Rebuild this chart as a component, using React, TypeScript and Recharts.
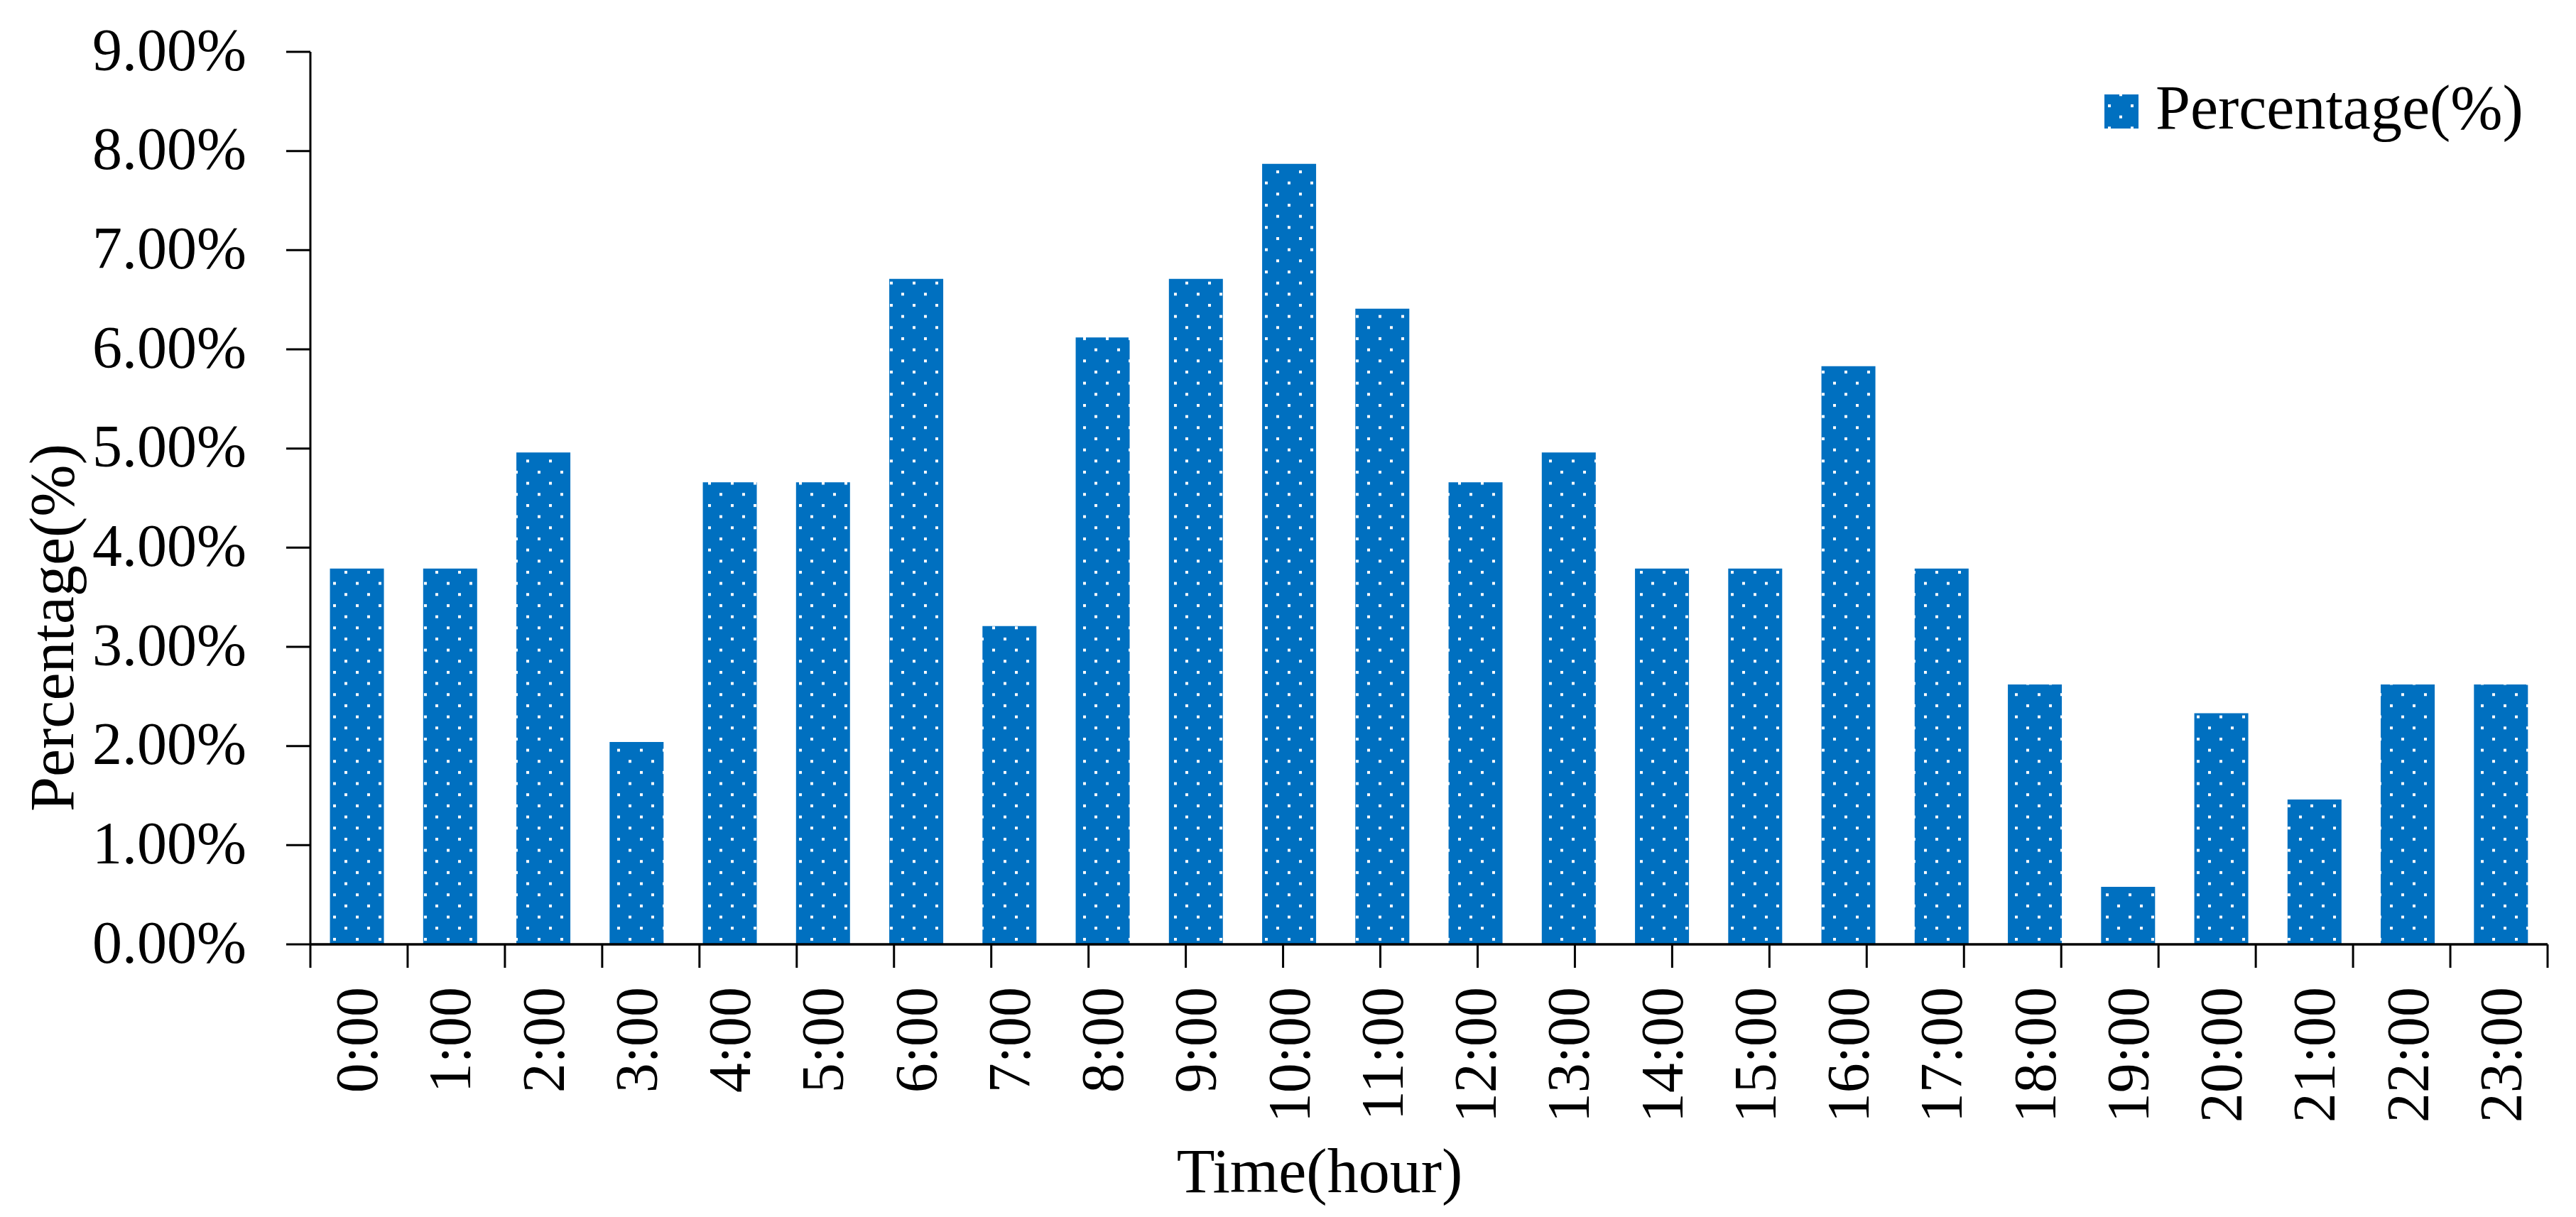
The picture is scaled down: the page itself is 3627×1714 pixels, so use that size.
import React from 'react';
import { BarChart, Bar, XAxis, YAxis, Legend } from 'recharts';

const hours = ['0:00', '1:00', '2:00', '3:00', '4:00', '5:00', '6:00', '7:00', '8:00', '9:00', '10:00', '11:00', '12:00', '13:00', '14:00', '15:00', '16:00', '17:00', '18:00', '19:00', '20:00', '21:00', '22:00', '23:00'];
const percentages = [3.79, 3.79, 4.96, 2.04, 4.66, 4.66, 6.71, 3.21, 6.12, 6.71, 7.87, 6.41, 4.66, 4.96, 3.79, 3.79, 5.83, 3.79, 2.62, 0.58, 2.33, 1.46, 2.62, 2.62];
const yTicks = [0, 1, 2, 3, 4, 5, 6, 7, 8, 9];
const boundaryTicks = [0, 1, 2, 3, 4, 5, 6, 7, 8, 9, 10, 11, 12, 13, 14, 15, 16, 17, 18, 19, 20, 21, 22, 23];
const seriesName = 'Percentage(%)';
const xTitle = 'Time(hour)';
const yTitle = 'Percentage(%)';

const data = hours.map((h, i) => ({ hour: h, value: percentages[i] }));

const FONT = '"Liberation Serif", "DejaVu Serif", serif';
const BLUE = '#0070C0';

const XTick = (props: any) => {
  const { x, y, payload } = props;
  return (
    <g transform={`translate(${x},${y})`}>
      <text transform="rotate(-90)" textAnchor="end" dy="0.34em" fontSize={84} fontFamily={FONT} fill="#000">
        {payload.value}
      </text>
    </g>
  );
};

const EmptyTick = () => <g />;

const renderYTitle = () => (
  <text x={103} y={884} transform="rotate(-90, 103, 884)" textAnchor="middle" fontSize={88} fontFamily={FONT} fill="#000">
    {yTitle}
  </text>
);

const renderXTitle = () => (
  <text x={1858} y={1679} textAnchor="middle" fontSize={88} fontFamily={FONT} fill="#000">
    {xTitle}
  </text>
);

const renderLegend = (props: any) => {
  const item = props.payload && props.payload[0];
  return (
    <svg width={700} height={120} style={{ display: 'block' }}>
      <rect x={13} y={33} width={48} height={48} fill="url(#dotsLegend)" />
      <text x={85} y={81} fontSize={88} fontFamily={FONT} fill="#000">
        {item ? item.value : seriesName}
      </text>
    </svg>
  );
};

export default function App() {
  return (
    <div style={{ position: 'absolute', left: 0, top: 0, background: '#fff' }}>
      <BarChart width={3627} height={1714} data={data} margin={{ top: 73, right: 40, bottom: 0, left: 0 }} barCategoryGap="21%">
        <defs>
          <pattern id="dots" patternUnits="userSpaceOnUse" x={5} y={20.7} width={32} height={31.33}>
            <rect x={0} y={0} width={32} height={31.33} fill={BLUE} />
            <rect x={0} y={0} width={4} height={4} fill="#fff" />
            <rect x={16} y={15.67} width={4} height={4} fill="#fff" />
          </pattern>
          <pattern id="dotsLegend" patternUnits="userSpaceOnUse" x={2} y={0} width={32} height={31.33}>
            <rect x={0} y={0} width={32} height={31.33} fill={BLUE} />
            <rect x={0} y={0} width={4} height={4} fill="#fff" />
            <rect x={16} y={15.67} width={4} height={4} fill="#fff" />
          </pattern>
        </defs>
        <XAxis
          xAxisId={0}
          type="number"
          domain={[0, 24]}
          allowDataOverflow
          ticks={boundaryTicks}
          tick={<EmptyTick />}
          tickLine={{ stroke: '#000', strokeWidth: 3 }}
          tickSize={33}
          axisLine={{ stroke: '#000', strokeWidth: 3.4 }}
          height={1}
          interval={0}
        />
        <XAxis
          xAxisId={1}
          dataKey="hour"
          type="category"
          interval={0}
          tickLine={false}
          tickSize={33}
          tickMargin={26}
          axisLine={false}
          tick={<XTick />}
          height={383}
          label={renderXTitle}
        />
        <YAxis
          type="number"
          domain={[0, 9]}
          ticks={yTicks}
          interval={0}
          width={437}
          tickSize={34}
          tickMargin={56}
          tickFormatter={(v: number) => v.toFixed(2) + '%'}
          tick={{ fontSize: 84, fontFamily: FONT, fill: '#000', dy: -4 }}
          tickLine={{ stroke: '#000', strokeWidth: 3 }}
          axisLine={{ stroke: '#000', strokeWidth: 3 }}
          label={renderYTitle}
        />
        <Legend
          layout="horizontal"
          verticalAlign="middle"
          align="center"
          content={renderLegend}
          wrapperStyle={{ left: 2950, top: 100, width: 700, height: 120 }}
        />
        <Bar xAxisId={1} dataKey="value" name={seriesName} fill="url(#dots)" isAnimationActive={false} />
      </BarChart>
    </div>
  );
}
